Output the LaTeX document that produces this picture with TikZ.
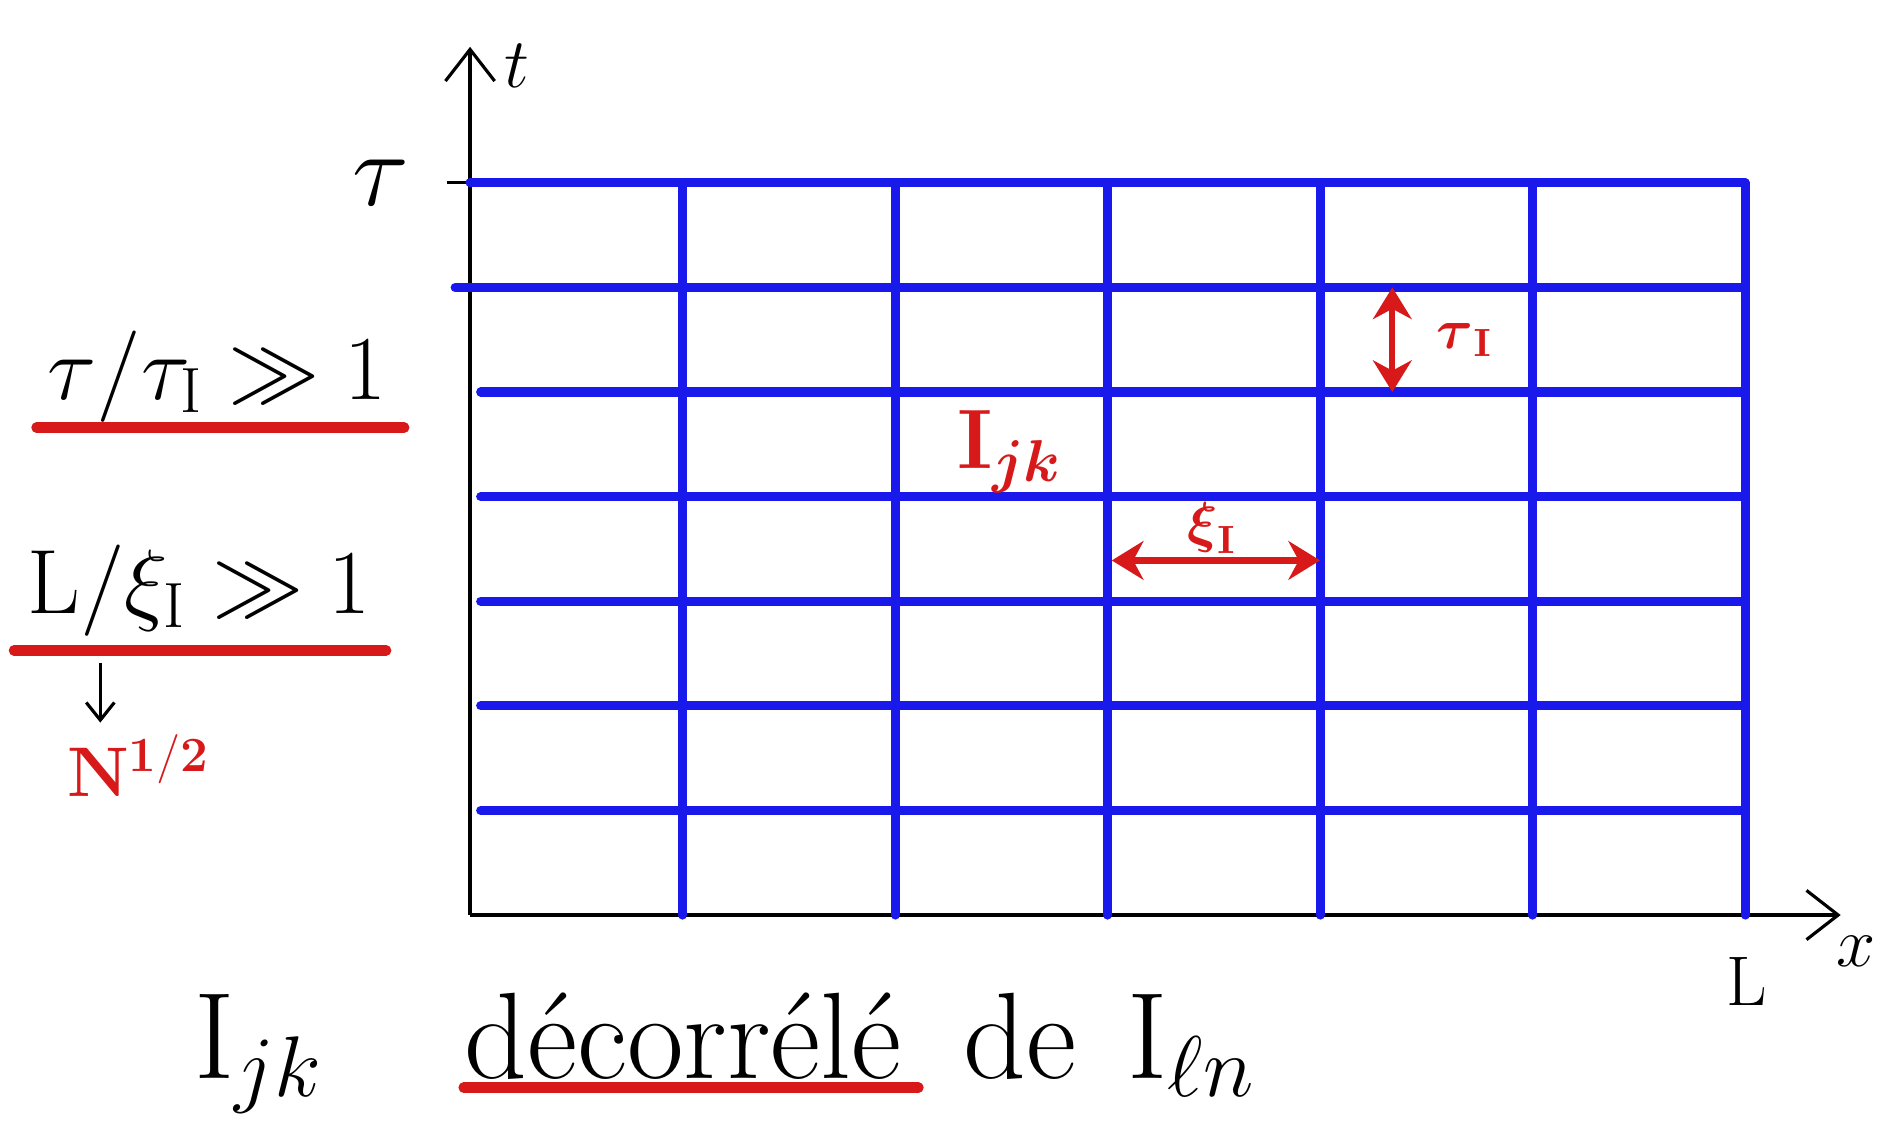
\documentclass[tikz,border=0pt]{standalone}
\usepackage{fix-cm}
\usepackage{amsmath}
\usepackage{tikz}
\usepackage{xcolor}
\usetikzlibrary{arrows.meta, positioning}

\definecolor{penblue}{RGB}{25,25,235}
\definecolor{penred}{RGB}{215,25,25}

\begin{document}
\begin{tikzpicture}[
  x=2.125cm, y=1.046cm,
  gridline/.style={draw=penblue, line width=2.6pt, line cap=round},
  axis/.style={-{Straight Barb[length=9pt, width=14pt]}, line width=0.9pt},
  smallarrow/.style={-{Straight Barb[length=5pt, width=8pt]}, line width=0.9pt},
  redline/.style={draw=penred, line width=3pt, line cap=round},
  redarrow/.style={{Stealth[length=9pt, width=11pt]}-{Stealth[length=9pt, width=11pt]},
                   draw=penred, line width=1.8pt},
  bigtxt/.style={font=\fontsize{35}{37}\selectfont, inner sep=0pt},
  condtxt/.style={font=\fontsize{26}{28}\selectfont, inner sep=0pt},
  axlbl/.style={font=\fontsize{20}{22}\selectfont, inner sep=0pt},
  redlbl/.style={text=penred, font=\fontsize{20}{22}\selectfont\bfseries, inner sep=0pt},
  smallred/.style={text=penred, font=\fontsize{16}{18}\selectfont\bfseries, inner sep=0pt}
]

\useasboundingbox (-2.212,-2.113) rectangle (6.682,8.748);

% Axes (black)
\coordinate (O)    at (0,0);
\coordinate (ttip) at (0,8.30);
\coordinate (xtip) at (6.45,0);
\draw[axis] (O) -- (ttip);
\draw[axis] (O) -- (xtip);
\node[axlbl] (tlbl) at (0.22,8.12) {$t$};
\node[axlbl] (xlbl) at (6.52,-0.35) {$x$};
\node[axlbl] (Llbl) at (6.01,-0.64) {L};

% Tick at tau
\coordinate (tick) at (-0.11,7);
\draw[line width=0.9pt] (tick) -- (0,7);
\node[font=\fontsize{30}{32}\selectfont, inner sep=0pt] (taulbl) at (-0.42,7) {$\tau$};

% Grid (blue): rows then columns
\draw[gridline] (0.05,1) -- (6,1)  (0.05,2) -- (6,2)  (0.05,3) -- (6,3)
                (0.05,4) -- (6,4)  (0.05,5) -- (6,5)  (-0.07,6) -- (6,6)
                (0,7) -- (6,7);
\draw[gridline] (1,0) -- (1,7)  (2,0) -- (2,7)  (3,0) -- (3,7)
                (4,0) -- (4,7)  (5,0) -- (5,7)  (6,0) -- (6,7);

% Cell label and correlation lengths (red)
\node[redlbl, font=\fontsize{24}{26}\selectfont\bfseries] (ijk) at (2.54,4.43) {$\mathbf{I}_{\boldsymbol{jk}}$};

\coordinate (tauA) at (4.34,6);
\coordinate (tauB) at (4.34,5);
\draw[redarrow] (tauA) -- (tauB);
\node[smallred] (taui) at (4.68,5.50) {$\boldsymbol{\tau}_{\mathbf{I}}$};

\coordinate (xiA) at (3.02,3.39);
\coordinate (xiB) at (4.00,3.39);
\draw[redarrow] (xiA) -- (xiB);
\node[smallred] (xii) at (3.49,3.70) {$\boldsymbol{\xi}_{\mathbf{I}}$};

% Conditions on the left
\node[condtxt] (taucond) at (-1.19,5.15) {$\tau/\tau_{\mathrm{I}} \gg 1$};
\draw[redline] (-2.04,4.66) -- (-0.31,4.66);

\node[condtxt] (xicond) at (-1.275,3.10) {$\mathrm{L}/\xi_{\mathrm{I}} \gg 1$};
\draw[redline] (-2.146,2.53) -- (-0.395,2.53);

\coordinate (ntop) at (-1.74,2.41);
\coordinate (nbot) at (-1.74,1.84);
\draw[smallarrow] (ntop) -- (nbot);
\node[redlbl, anchor=base west] (nhalf) at (-1.90,1.13) {$\mathbf{N}^{\mathbf{1/2}}$};

% Bottom line
\node[bigtxt, anchor=base west] (ijkb) at (-1.30,-1.56) {$\mathrm{I}_{jk}$};
\node[bigtxt, anchor=base west] (dec)  at (-0.03,-1.56) {décorrélé};
\node[bigtxt, anchor=base west] (de)   at (2.32,-1.56) {de};
\node[bigtxt, anchor=base west] (iln)  at (3.09,-1.56) {$\mathrm{I}_{\ell n}$};
\draw[redline] (-0.03,-1.65) -- (2.11,-1.65);

\end{tikzpicture}
\end{document}
